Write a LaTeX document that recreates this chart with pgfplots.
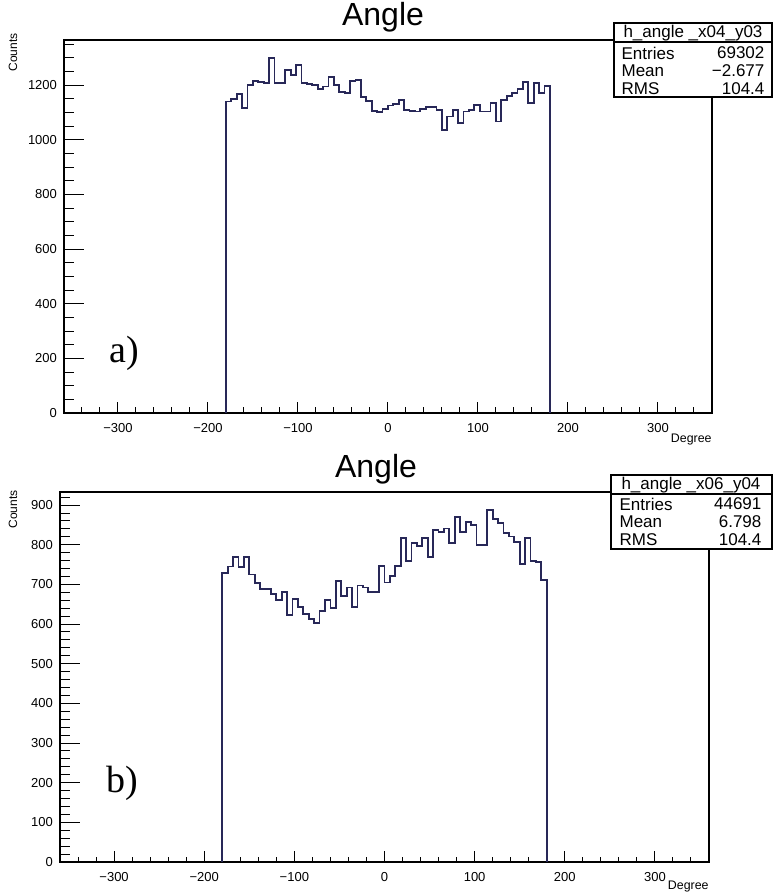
\documentclass[border=0pt]{standalone}
\usepackage{pgfplots}
\pgfplotsset{compat=1.18}
\usepackage{pgfplotstable}
\usepackage{fontspec}
\setmainfont{Liberation Sans}
\newfontfamily\serif{Liberation Serif}
\definecolor{histline}{RGB}{40,40,88}

% bin left edge, counts (6 degree bins)
\pgfplotstableread{
x y
-180 0
-180 1140
-174 1150
-168 1168
-162 1115
-156 1200
-150 1215
-144 1212
-138 1208
-132 1300
-126 1208
-120 1208
-114 1255
-108 1236
-102 1273
-96 1208
-90 1205
-84 1200
-78 1185
-72 1195
-66 1230
-60 1200
-54 1175
-48 1172
-42 1215
-36 1218
-30 1155
-24 1142
-18 1105
-12 1102
-6 1112
0 1125
6 1132
12 1145
18 1110
24 1105
30 1103
36 1112
42 1121
48 1121
54 1109
60 1036
66 1085
72 1109
78 1061
84 1103
90 1109
96 1127
102 1103
108 1103
114 1133
120 1067
126 1145
132 1160
138 1172
144 1185
150 1212
156 1133
162 1209
168 1172
174 1197
180 1197
180 0
}\topdata

\pgfplotstableread{
x y
-180 0
-180 728
-174 745
-168 769
-162 743
-156 769
-150 725
-144 703
-138 688
-132 688
-126 675
-120 660
-114 681
-108 622
-102 663
-96 643
-90 626
-84 612
-78 603
-72 633
-66 660
-60 640
-54 708
-48 671
-42 692
-36 643
-30 697
-24 692
-18 681
-12 681
-6 747
0 705
6 722
12 747
18 818
24 760
30 804
36 796
42 818
48 770
54 838
60 832
66 841
72 804
78 869
84 832
90 858
96 849
102 800
108 800
114 887
120 864
126 855
132 830
138 821
144 807
150 752
156 818
162 760
168 756
174 711
180 711
180 0
}\botdata

\pgfplotsset{rootstyle/.style={
  scale only axis,
  anchor=south west,
  axis line style={line width=0.6pt},
  tick pos=left,
  tick align=inside,
  xmin=-360, xmax=360, ymin=0,
  xtick={-300,-200,...,300},
  xticklabels={−300,−200,−100,0,100,200,300},
  minor xtick={-340,-320,...,340},
  xtick style={/pgfplots/major tick length=5.5pt,/pgfplots/minor tick length=2.75pt,line width=0.5pt,black},
  ytick style={/pgfplots/major tick length=10pt,/pgfplots/minor tick length=5pt,line width=0.5pt,black},
  ticklabel style={font=\fontsize{6.5}{7}\selectfont},
  xticklabel style={yshift=-1.5pt},
  /pgf/number format/assume math mode=true,
  /pgf/number format/1000 sep={},
}}

\begin{document}
\begin{tikzpicture}
\useasboundingbox (0,0) rectangle (386.5pt,448pt);

% a)
\begin{axis}[rootstyle,
  at={(32pt,241.5pt)}, width=324pt, height=186.5pt,
  ymax=1365,
  ytick={0,200,...,1200},
  minor ytick={0,50,...,1350},
]
\addplot[const plot mark left, no markers, histline, line width=0.9pt] table {\topdata};
\end{axis}

% b)
\begin{axis}[rootstyle,
  at={(30pt,17pt)}, width=324.5pt, height=185pt,
  ymax=933,
  ytick={0,100,...,900},
  minor ytick={0,20,...,920},
]
\addplot[const plot mark left, no markers, histline, line width=0.9pt] table {\botdata};
\end{axis}

% titles and axis names
\node[anchor=base, font=\fontsize{16}{18}\selectfont] at (191.5pt,435pt) {Angle};
\node[anchor=base, font=\fontsize{16}{18}\selectfont] at (188pt,209pt) {Angle};
\node[rotate=90, anchor=east, inner sep=0pt, font=\fontsize{6}{7}\selectfont] at (6.5pt,431.5pt) {Counts};
\node[rotate=90, anchor=east, inner sep=0pt, font=\fontsize{6}{7}\selectfont] at (6.5pt,203pt) {Counts};
\node[anchor=east, inner sep=0pt, font=\fontsize{6.2}{7}\selectfont] at (356pt,228pt) {Degree};
\node[anchor=east, inner sep=0pt, font=\fontsize{6.2}{7}\selectfont] at (354.5pt,4.5pt) {Degree};

% stat boxes
\begin{scope}[font=\fontsize{8.5}{9}\selectfont, line width=0.6pt]
\draw[fill=white] (307pt,436.5pt) rectangle (386pt,399.5pt);
\draw (307pt,427pt) -- (386pt,427pt);
\node[inner sep=0pt] at (346.5pt,431.5pt) {h\_angle \_x04\_y03};
\node[anchor=west, inner sep=0pt] at (310.5pt,421.5pt) {Entries};
\node[anchor=west, inner sep=0pt] at (310.5pt,412.5pt) {Mean};
\node[anchor=west, inner sep=0pt] at (310.5pt,403.5pt) {RMS};
\node[anchor=east, inner sep=0pt] at (382.5pt,421.5pt) {69302};
\node[anchor=east, inner sep=0pt] at (382.5pt,412.5pt) {−2.677};
\node[anchor=east, inner sep=0pt] at (382.5pt,403.5pt) {104.4};

\draw[fill=white] (305.5pt,210.5pt) rectangle (386pt,173.5pt);
\draw (305.5pt,201pt) -- (386pt,201pt);
\node[inner sep=0pt] at (345.5pt,205.5pt) {h\_angle \_x06\_y04};
\node[anchor=west, inner sep=0pt] at (309.5pt,196pt) {Entries};
\node[anchor=west, inner sep=0pt] at (309.5pt,187pt) {Mean};
\node[anchor=west, inner sep=0pt] at (309.5pt,178pt) {RMS};
\node[anchor=east, inner sep=0pt] at (381pt,196pt) {44691};
\node[anchor=east, inner sep=0pt] at (381pt,187pt) {6.798};
\node[anchor=east, inner sep=0pt] at (381pt,178pt) {104.4};
\end{scope}

% panel letters
\node[inner sep=0pt, font=\serif\fontsize{19}{21}\selectfont] at (62pt,271.5pt) {a)};
\node[inner sep=0pt, font=\serif\fontsize{19}{21}\selectfont] at (61pt,56.5pt) {b)};
\end{tikzpicture}
\end{document}
